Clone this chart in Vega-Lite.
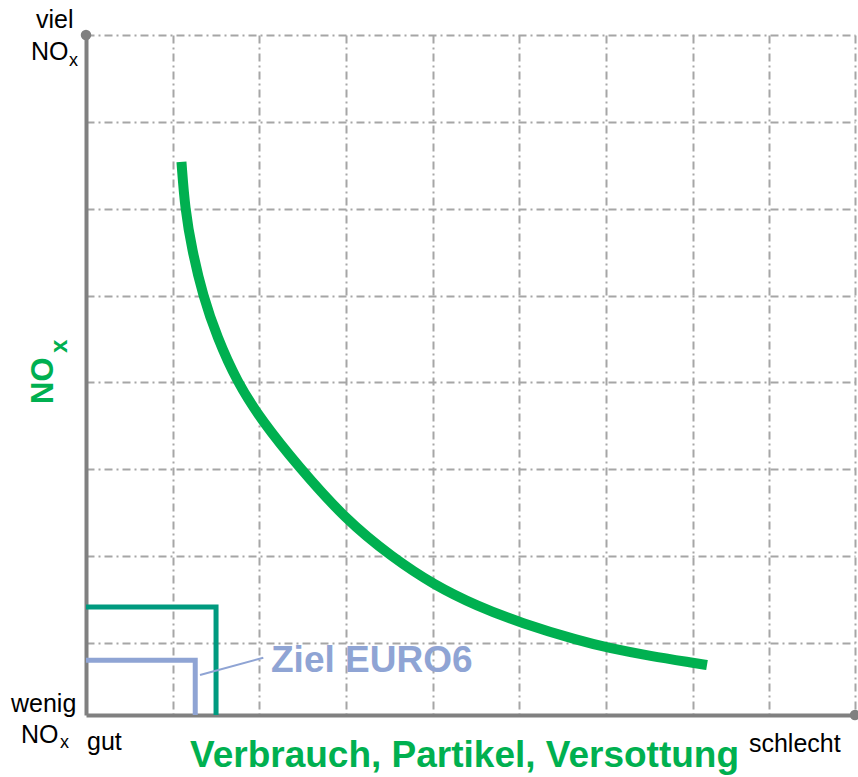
{
  "$schema": "https://vega.github.io/schema/vega-lite/v6.json",
  "width": 769,
  "height": 680,
  "autosize": "none",
  "padding": {"left": 86, "top": 35, "right": 3, "bottom": 62},
  "background": "white",
  "config": {"view": {"stroke": null}, "font": "Liberation Sans"},
  "encoding": {
    "x": {"field": "x", "type": "quantitative",
      "scale": {"domain": [0, 8.87], "nice": false, "zero": false},
      "axis": {"values": [1, 2, 3, 4, 5, 6, 7, 7.878, 8.87], "grid": true, "gridColor": "#A6A6A6", "gridWidth": 2, "gridDash": [8, 4, 2, 4], "labels": false, "ticks": false, "domain": true, "domainColor": "#808080", "domainWidth": 4, "title": null}},
    "y": {"field": "y", "type": "quantitative",
      "scale": {"domain": [0, 7.825], "nice": false, "zero": false},
      "axis": {"values": [0.829, 1.83, 2.831, 3.832, 4.822, 5.823, 6.824, 7.825], "grid": true, "gridColor": "#A6A6A6", "gridWidth": 2, "gridDash": [8, 4, 2, 4], "labels": false, "ticks": false, "domain": true, "domainColor": "#808080", "domainWidth": 4, "title": null}}
  },
  "layer": [
    {
      "data": {"values": [
        {"x": 1.101, "y": 6.364}, {"x": 1.142, "y": 5.823}, {"x": 1.223, "y": 5.351},
        {"x": 1.349, "y": 4.822}, {"x": 1.511, "y": 4.35}, {"x": 1.742, "y": 3.832},
        {"x": 2.03, "y": 3.383}, {"x": 2.445, "y": 2.865}, {"x": 2.999, "y": 2.244},
        {"x": 3.529, "y": 1.818}, {"x": 4.014, "y": 1.496}, {"x": 4.51, "y": 1.254},
        {"x": 5.017, "y": 1.059}, {"x": 5.698, "y": 0.852}, {"x": 6.032, "y": 0.771},
        {"x": 6.505, "y": 0.679}, {"x": 7.024, "y": 0.598}, {"x": 7.163, "y": 0.575}
      ]},
      "mark": {"type": "line", "color": "#00B050", "strokeWidth": 10, "strokeCap": "butt", "interpolate": "basis"}
    },
    {
      "data": {"values": [
        {"x": 0, "y": 1.243, "o": 1}, {"x": 1.5, "y": 1.243, "o": 2}, {"x": 1.5, "y": 0, "o": 3}
      ]},
      "mark": {"type": "line", "color": "#009A7F", "strokeWidth": 5, "strokeCap": "butt", "strokeJoin": "miter"},
      "encoding": {"order": {"field": "o", "type": "quantitative"}}
    },
    {
      "data": {"values": [
        {"x": 0, "y": 0.63, "o": 1}, {"x": 1.26, "y": 0.63, "o": 2}, {"x": 1.26, "y": 0, "o": 3}
      ]},
      "mark": {"type": "line", "color": "#8FA4D4", "strokeWidth": 5, "strokeCap": "butt", "strokeJoin": "miter"},
      "encoding": {"order": {"field": "o", "type": "quantitative"}}
    },
    {
      "data": {"values": [
        {"x": 1.315, "y": 0.46, "o": 1}, {"x": 2.045, "y": 0.659, "o": 2}
      ]},
      "mark": {"type": "line", "color": "#8FA4D4", "strokeWidth": 2},
      "encoding": {"order": {"field": "o", "type": "quantitative"}}
    },
    {
      "data": {"values": [{"x": 0, "y": 7.825}, {"x": 8.87, "y": 0}]},
      "mark": {"type": "point", "filled": true, "color": "#808080", "opacity": 1, "size": 110}
    },
    {
      "data": {"values": [
        {"t": "viel", "x": -0.577, "y": 7.906},
        {"t": "NO", "x": -0.634, "y": 7.537},
        {"t": "wenig", "x": -0.865, "y": 0.035},
        {"t": "NO", "x": -0.75, "y": -0.322},
        {"t": "gut", "x": 0.012, "y": -0.403},
        {"t": "schlecht", "x": 7.647, "y": -0.426}
      ]},
      "mark": {"type": "text", "align": "left", "baseline": "alphabetic", "fontSize": 25, "color": "#000000"},
      "encoding": {"text": {"field": "t"}}
    },
    {
      "data": {"values": [
        {"t": "x", "x": -0.196, "y": 7.468},
        {"t": "x", "x": -0.3, "y": -0.38}
      ]},
      "mark": {"type": "text", "align": "left", "baseline": "alphabetic", "fontSize": 18, "color": "#000000"},
      "encoding": {"text": {"field": "t"}}
    },
    {
      "data": {"values": [{"t": "Verbrauch, Partikel, Versottung", "x": 1.2, "y": -0.598}]},
      "mark": {"type": "text", "align": "left", "baseline": "alphabetic", "fontSize": 37, "fontWeight": "bold", "color": "#00B050"},
      "encoding": {"text": {"field": "t"}}
    },
    {
      "data": {"values": [{"t": "Ziel EURO6", "x": 2.134, "y": 0.495}]},
      "mark": {"type": "text", "align": "left", "baseline": "alphabetic", "fontSize": 37, "fontWeight": "bold", "color": "#8FA4D4"},
      "encoding": {"text": {"field": "t"}}
    },
    {
      "data": {"values": [{"t": "NO", "x": -0.381, "y": 3.579}]},
      "mark": {"type": "text", "align": "left", "baseline": "alphabetic", "angle": 270, "fontSize": 31, "fontWeight": "bold", "color": "#00B050"},
      "encoding": {"text": {"field": "t"}}
    },
    {
      "data": {"values": [{"t": "x", "x": -0.219, "y": 4.166}]},
      "mark": {"type": "text", "align": "left", "baseline": "alphabetic", "angle": 270, "fontSize": 24, "fontWeight": "bold", "color": "#00B050"},
      "encoding": {"text": {"field": "t"}}
    }
  ]
}
